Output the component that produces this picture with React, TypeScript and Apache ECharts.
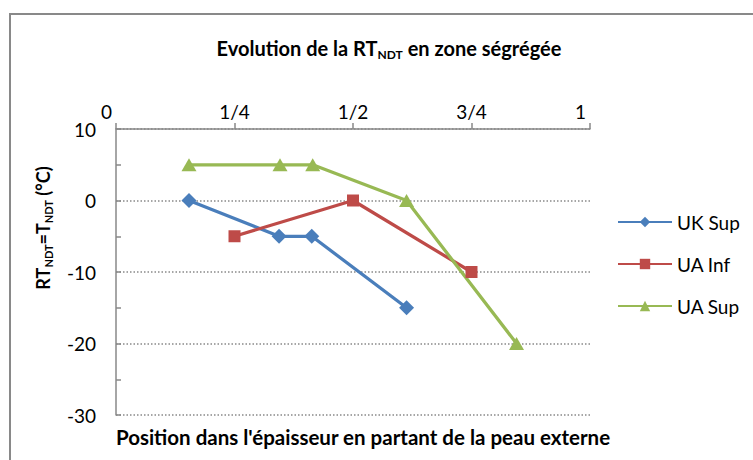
import React, { useEffect, useRef } from "react";
import * as echarts from "echarts";

const xTickLabels = ["0", "1/4", "1/2", "3/4", "1"];
const seriesNames = ["UK Sup", "UA Inf", "UA Sup"];
const ukSupX = [0.154, 0.344, 0.413, 0.613];
const ukSupY = [0, -5, -5, -15];
const uaInfX = [0.25, 0.5, 0.75];
const uaInfY = [-5, 0, -10];
const uaSupX = [0.154, 0.346, 0.415, 0.613, 0.845];
const uaSupY = [5, 5, 5, 0, -20];

const FONT = "Lato, 'Liberation Sans', sans-serif";
const GRAY = "#898989";

function pairs(xs: number[], ys: number[]) {
  return xs.map((x, i) => [x, ys[i]]);
}

export default function App() {
  const ref = useRef<HTMLDivElement>(null);
  useEffect(() => {
    if (!ref.current) return;
    const chart = echarts.init(ref.current, null, { renderer: "svg" });
    const bold = { fontFamily: FONT, fontWeight: "bold" as const, fill: "#000" };
    const tickStyle = ["e", "n", "n", "n", "e"];
    chart.setOption({
      animation: false,
      backgroundColor: "#fff",
      textStyle: { fontFamily: FONT },
      grid: { left: 116, right: 163, top: 129, bottom: 45 },
      xAxis: {
        type: "value",
        position: "top",
        min: 0,
        max: 1,
        interval: 0.25,
        axisLine: { show: true, onZero: false, lineStyle: { color: GRAY, width: 1.5 } },
        axisTick: { show: true, length: 6, lineStyle: { color: GRAY, width: 1.5 } },
        splitLine: { show: false },
        axisLabel: {
          fontSize: 19,
          color: "#000",
          fontFamily: FONT,
          margin: 8,
          formatter: (v: number) => {
            const i = Math.round(v * 4);
            return "{" + tickStyle[i] + "|" + xTickLabels[i] + "}";
          },
          rich: {
            n: { fontSize: 19, color: "#000", fontFamily: FONT },
            e: { fontSize: 19, color: "#000", fontFamily: FONT, padding: [0, 19, 0, 0] },
          },
        },
      },
      yAxis: {
        type: "value",
        min: -30,
        max: 10,
        interval: 10,
        axisLine: { show: true, onZero: false, lineStyle: { color: GRAY, width: 1.5 } },
        axisTick: { show: true, inside: true, length: 5, lineStyle: { color: GRAY, width: 1.5 } },
        minorTick: { show: true, splitNumber: 2, length: 5, lineStyle: { color: GRAY, width: 1.5 } },
        splitLine: { show: true, lineStyle: { color: GRAY, width: 1.5, type: [1.5, 2] } },
        axisLabel: { fontSize: 19, color: "#000", fontFamily: FONT, margin: 20 },
      },
      legend: {
        orient: "vertical",
        left: 617,
        top: 212,
        padding: 0,
        itemWidth: 54,
        itemHeight: 13,
        itemGap: 22,
        textStyle: { fontSize: 19, color: "#000", fontFamily: FONT, lineHeight: 20 },
        data: seriesNames,
      },
      series: [
        {
          name: seriesNames[0],
          type: "line",
          data: pairs(ukSupX, ukSupY),
          symbol: "diamond",
          symbolSize: 15,
          lineStyle: { width: 3.25, color: "#4A7EBB" },
          itemStyle: { color: "#4A7EBB" },
        },
        {
          name: seriesNames[1],
          type: "line",
          data: pairs(uaInfX, uaInfY),
          symbol: "rect",
          symbolSize: 12,
          lineStyle: { width: 3.25, color: "#BE4B48" },
          itemStyle: { color: "#BE4B48" },
        },
        {
          name: seriesNames[2],
          type: "line",
          data: pairs(uaSupX, uaSupY),
          symbol: "triangle",
          symbolSize: [15, 13],
          lineStyle: { width: 3.25, color: "#98B954" },
          itemStyle: { color: "#98B954" },
        },
      ],
      graphic: [
        {
          type: "rect",
          shape: { x: 10, y: 14, width: 800, height: 500 },
          style: { fill: "none", stroke: GRAY, lineWidth: 2 },
          silent: true,
        },
        {
          type: "text",
          x: 389,
          y: 48,
          style: {
            text: "{a|Evolution de la RT}{s|NDT}{a| en zone ségrégée}",
            align: "center",
            verticalAlign: "middle",
            rich: {
              a: { ...bold, fontSize: 20, lineHeight: 24 },
              s: { ...bold, fontSize: 12, lineHeight: 14, verticalAlign: "bottom" },
            },
          },
        },
        {
          type: "text",
          x: 43,
          y: 228,
          rotation: Math.PI / 2,
          style: {
            text: "{a|RT}{s|NDT}{a|=T}{s|NDT}{a| (°C)}",
            align: "center",
            verticalAlign: "middle",
            rich: {
              a: { ...bold, fontSize: 18, lineHeight: 22 },
              s: { ...bold, fontSize: 11, lineHeight: 13, verticalAlign: "bottom" },
            },
          },
        },
        {
          type: "text",
          x: 363,
          y: 437,
          style: {
            ...bold,
            fontSize: 20.5,
            text: "Position dans l'épaisseur en partant de la peau externe",
            align: "center",
            verticalAlign: "middle",
          },
        },
      ],
    });
    return () => chart.dispose();
  }, []);
  return (
    <div
      ref={ref}
      style={{ position: "absolute", left: 0, top: 0, width: 753, height: 460, background: "#fff" }}
    />
  );
}
